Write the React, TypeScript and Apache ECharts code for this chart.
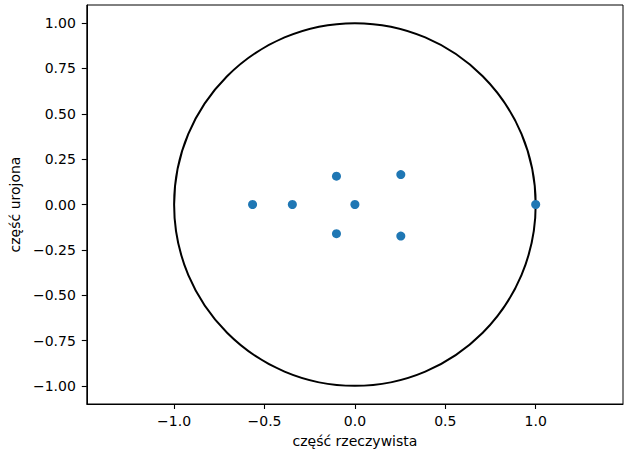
import React, { useEffect, useRef } from "react";
import * as echarts from "echarts";

const realParts: number[] = [-0.566, -0.346, -0.102, -0.102, 0.0, 0.254, 0.254, 1.0];
const imagParts: number[] = [0.0, 0.0, 0.156, -0.161, 0.0, 0.165, -0.174, 0.0];
const xTicks: number[] = [-1.0, -0.5, 0.0, 0.5, 1.0];
const yTicks: number[] = [-1.0, -0.75, -0.5, -0.25, 0.0, 0.25, 0.5, 0.75, 1.0];
const circleCenter: number[] = [0, 0];
const circleRadius = 1;
const xLimit = 1.483;
const yLimit = 1.1;

const FONT = "DejaVu Sans";

function fmtMinus(s: string): string {
  return s.replace("-", "\u2212");
}

export default function App() {
  const ref = useRef<HTMLDivElement>(null);
  useEffect(() => {
    if (!ref.current) return;
    const chart = echarts.init(ref.current, null, { renderer: "svg" });
    const points = realParts.map((r, i) => [r, imagParts[i]]);
    chart.setOption({
      animation: false,
      backgroundColor: "#ffffff",
      grid: {
        left: 85,
        top: 5,
        width: 538,
        height: 399,
        show: true,
        borderColor: "#000000",
        borderWidth: 1,
        backgroundColor: "transparent",
      },
      xAxis: {
        type: "value",
        min: -xLimit,
        max: xLimit,
        name: "część rzeczywista",
        nameLocation: "middle",
        nameGap: 30,
        nameTextStyle: { fontFamily: FONT, fontSize: 14, color: "#000" },
        axisLine: { show: true, onZero: false, lineStyle: { color: "#000", width: 1 } },
        splitLine: { show: false },
        axisTick: {
          show: true,
          inside: false,
          length: 5,
          customValues: xTicks,
          lineStyle: { color: "#000", width: 1.1 },
        },
        axisLabel: {
          customValues: xTicks,
          margin: 10,
          fontFamily: FONT,
          fontSize: 14,
          color: "#000",
          formatter: (v: number) => fmtMinus(v.toFixed(1)),
        },
      },
      yAxis: {
        type: "value",
        min: -yLimit,
        max: yLimit,
        name: "część urojona",
        nameLocation: "middle",
        nameGap: 64,
        nameRotate: 90,
        nameTextStyle: { fontFamily: FONT, fontSize: 14, color: "#000" },
        axisLine: { show: true, onZero: false, lineStyle: { color: "#000", width: 1 } },
        splitLine: { show: false },
        axisTick: {
          show: true,
          inside: false,
          length: 5,
          customValues: yTicks,
          lineStyle: { color: "#000", width: 1.1 },
        },
        axisLabel: {
          customValues: yTicks,
          margin: 11,
          fontFamily: FONT,
          fontSize: 14,
          color: "#000",
          formatter: (v: number) => fmtMinus(v.toFixed(2)),
        },
      },
      series: [
        {
          type: "custom",
          data: [[circleCenter[0], circleCenter[1], circleRadius]],
          silent: true,
          z: 1,
          renderItem: (params: any, api: any) => {
            const c = api.coord([api.value(0), api.value(1)]);
            const sz = api.size([api.value(2), api.value(2)]);
            return {
              type: "ellipse",
              shape: { cx: c[0], cy: c[1], rx: sz[0], ry: sz[1] },
              style: { fill: "none", stroke: "#000000", lineWidth: 2 },
            };
          },
        },
        {
          type: "scatter",
          data: points,
          symbol: "circle",
          symbolSize: 9,
          itemStyle: { color: "#1f77b4", opacity: 1 },
          z: 2,
        },
      ],
    });
    return () => chart.dispose();
  }, []);
  return (
    <div
      ref={ref}
      style={{ position: "fixed", left: 0, top: 0, width: 626, height: 454 }}
    />
  );
}
